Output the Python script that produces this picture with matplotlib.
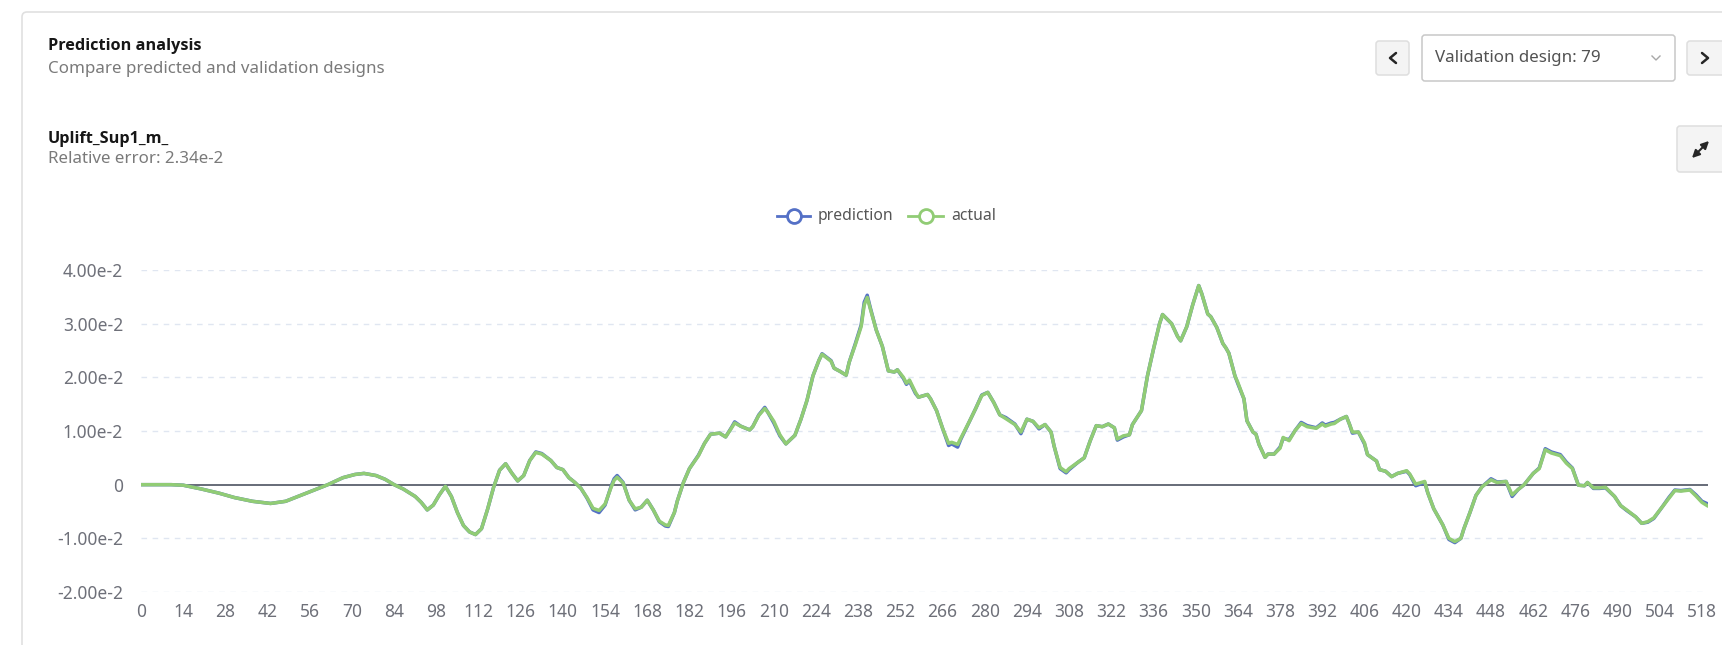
import numpy as np
import matplotlib
matplotlib.use("Agg")
from matplotlib import pyplot as plt
from matplotlib.patches import FancyBboxPatch, FancyArrowPatch
from matplotlib.lines import Line2D

plt.rcParams['font.family'] = ['Noto Sans', 'DejaVu Sans']
title_family = ['Open Sans', 'Roboto', 'DejaVu Sans']

design_idx = [
    0, 5, 10, 14, 20, 26, 31, 37, 43, 48, 53, 58, 62, 67, 71, 74, 78, 81, 84, 87,
    91, 93, 95, 97, 99, 101, 103, 105, 107, 109, 111, 113, 115, 117, 119, 121, 123, 125, 127, 129,
    131, 133, 136, 138, 140, 142, 144, 146, 148, 150, 152, 154, 156, 157, 158, 160, 162, 164, 166, 168,
    170, 172, 174, 175, 177, 178, 180, 182, 185, 187, 189, 192, 194, 196, 197, 199, 202, 203, 205, 207,
    208, 210, 212, 214, 217, 219, 221, 223, 225, 226, 229, 230, 232, 234, 235, 237, 239, 240, 241, 242,
    244, 246, 248, 250, 251, 253, 254, 255, 257, 258, 261, 262, 264, 266, 268, 269, 271, 272, 275, 277,
    279, 281, 283, 285, 287, 290, 292, 294, 296, 298, 300, 302, 303, 305, 307, 308, 311, 313, 315, 317,
    319, 321, 323, 324, 326, 328, 329, 332, 334, 336, 338, 339, 342, 344, 345, 347, 349, 351, 352, 354,
    355, 357, 359, 360, 361, 363, 364, 366, 367, 369, 370, 371, 373, 374, 376, 378, 379, 381, 383, 385,
    387, 390, 392, 393, 395, 396, 398, 400, 401, 402, 404, 406, 407, 410, 411, 413, 415, 417, 420, 421,
    423, 426, 427, 429, 432, 434, 436, 438, 439, 441, 443, 445, 448, 450, 453, 455, 457, 459, 462, 464,
    466, 468, 471, 473, 475, 477, 479, 480, 482, 484, 486, 489, 491, 493, 496, 498, 500, 502, 505, 507,
    509, 511, 514, 516, 518, 520,
]

# values in units of 1e-2
actual_e2 = [
    0.00, 0.00, 0.00, -0.01, -0.08, -0.16, -0.24, -0.31, -0.35, -0.31, -0.20, -0.09, 0.00, 0.13, 0.19, 0.21, 0.17, 0.10, 0.00, -0.08,
    -0.22, -0.33, -0.47, -0.38, -0.19, -0.03, -0.22, -0.52, -0.76, -0.88, -0.93, -0.82, -0.46, -0.05, 0.27, 0.39, 0.22, 0.07, 0.17, 0.45,
    0.60, 0.57, 0.45, 0.32, 0.28, 0.13, 0.04, -0.07, -0.24, -0.44, -0.48, -0.36, -0.05, 0.08, 0.14, 0.03, -0.29, -0.45, -0.42, -0.29,
    -0.47, -0.68, -0.75, -0.76, -0.52, -0.30, 0.04, 0.30, 0.54, 0.77, 0.94, 0.96, 0.89, 1.06, 1.15, 1.09, 1.02, 1.08, 1.29, 1.42,
    1.35, 1.18, 0.93, 0.76, 0.92, 1.22, 1.57, 2.03, 2.32, 2.43, 2.30, 2.17, 2.11, 2.04, 2.28, 2.60, 2.95, 3.35, 3.49, 3.28,
    2.88, 2.58, 2.12, 2.10, 2.14, 2.00, 1.89, 1.95, 1.72, 1.63, 1.68, 1.60, 1.38, 1.05, 0.77, 0.79, 0.75, 0.86, 1.19, 1.42,
    1.66, 1.72, 1.53, 1.30, 1.23, 1.12, 0.98, 1.22, 1.18, 1.06, 1.12, 0.98, 0.72, 0.32, 0.24, 0.30, 0.42, 0.50, 0.82, 1.10,
    1.08, 1.13, 1.06, 0.85, 0.91, 0.93, 1.12, 1.38, 2.03, 2.53, 3.00, 3.17, 3.00, 2.76, 2.68, 2.94, 3.35, 3.71, 3.56, 3.18,
    3.13, 2.93, 2.63, 2.55, 2.45, 2.03, 1.90, 1.60, 1.19, 0.98, 0.94, 0.75, 0.51, 0.57, 0.57, 0.68, 0.88, 0.82, 1.01, 1.14,
    1.08, 1.05, 1.13, 1.09, 1.13, 1.14, 1.22, 1.27, 1.13, 0.98, 0.98, 0.78, 0.56, 0.44, 0.28, 0.25, 0.15, 0.21, 0.26, 0.20,
    0.01, 0.06, -0.15, -0.45, -0.75, -1.00, -1.06, -1.00, -0.82, -0.52, -0.20, -0.04, 0.09, 0.04, 0.06, -0.19, -0.09, 0.00, 0.21, 0.30,
    0.65, 0.59, 0.54, 0.40, 0.30, -0.01, -0.02, 0.04, -0.06, -0.06, -0.05, -0.22, -0.39, -0.47, -0.60, -0.72, -0.69, -0.62, -0.40, -0.25,
    -0.11, -0.12, -0.10, -0.21, -0.33, -0.40,
]

prediction_e2 = [
    0.00, 0.00, 0.00, -0.01, -0.08, -0.16, -0.24, -0.31, -0.35, -0.31, -0.20, -0.09, 0.00, 0.13, 0.19, 0.21, 0.17, 0.10, 0.00, -0.08,
    -0.22, -0.33, -0.47, -0.38, -0.19, -0.03, -0.22, -0.52, -0.76, -0.88, -0.93, -0.82, -0.46, -0.05, 0.27, 0.39, 0.22, 0.07, 0.17, 0.45,
    0.61, 0.58, 0.45, 0.32, 0.28, 0.13, 0.04, -0.07, -0.25, -0.47, -0.52, -0.38, -0.03, 0.11, 0.17, 0.04, -0.29, -0.47, -0.42, -0.29,
    -0.47, -0.69, -0.77, -0.78, -0.52, -0.30, 0.04, 0.30, 0.55, 0.77, 0.94, 0.96, 0.89, 1.07, 1.17, 1.09, 1.02, 1.08, 1.30, 1.44,
    1.35, 1.15, 0.91, 0.76, 0.92, 1.22, 1.57, 2.03, 2.32, 2.44, 2.31, 2.17, 2.11, 2.04, 2.28, 2.62, 2.98, 3.40, 3.53, 3.30,
    2.88, 2.58, 2.12, 2.10, 2.14, 1.98, 1.87, 1.93, 1.70, 1.63, 1.68, 1.60, 1.38, 1.05, 0.73, 0.76, 0.70, 0.84, 1.19, 1.42,
    1.67, 1.72, 1.53, 1.30, 1.25, 1.13, 0.95, 1.22, 1.18, 1.04, 1.12, 0.98, 0.72, 0.30, 0.22, 0.28, 0.42, 0.50, 0.82, 1.10,
    1.08, 1.13, 1.06, 0.83, 0.89, 0.93, 1.12, 1.38, 2.03, 2.53, 3.00, 3.17, 3.00, 2.76, 2.68, 2.94, 3.35, 3.71, 3.56, 3.18,
    3.13, 2.93, 2.63, 2.55, 2.45, 2.03, 1.88, 1.60, 1.19, 0.98, 0.94, 0.75, 0.51, 0.57, 0.57, 0.70, 0.86, 0.84, 1.01, 1.16,
    1.10, 1.06, 1.15, 1.11, 1.15, 1.16, 1.22, 1.27, 1.13, 0.96, 0.98, 0.76, 0.56, 0.44, 0.28, 0.25, 0.15, 0.21, 0.25, 0.19,
    -0.02, 0.04, -0.15, -0.45, -0.75, -1.02, -1.08, -1.00, -0.82, -0.52, -0.20, -0.04, 0.11, 0.05, 0.06, -0.22, -0.09, 0.00, 0.21, 0.31,
    0.67, 0.61, 0.56, 0.42, 0.31, -0.01, -0.02, 0.04, -0.07, -0.07, -0.06, -0.22, -0.39, -0.48, -0.60, -0.72, -0.70, -0.63, -0.40, -0.24,
    -0.10, -0.11, -0.09, -0.19, -0.31, -0.36,
]

x_tick_values = list(range(0, 519, 14))
y_tick_values = [-0.02, -0.01, 0.0, 0.01, 0.02, 0.03, 0.04]
y_tick_labels = ['-2.00e-2', '-1.00e-2', '0', '1.00e-2', '2.00e-2', '3.00e-2', '4.00e-2']

series_names = ['prediction', 'actual']
series_colors = ['#5470c6', '#91cc75']

actual = np.array(actual_e2) * 1e-2
prediction = np.array(prediction_e2) * 1e-2

W, H = 1722, 645
fig = plt.figure(figsize=(W / 100, H / 100), dpi=100)

# page / card layer in pixel coordinates
ui = fig.add_axes([0, 0, 1, 1], zorder=0)
ui.set_xlim(0, W)
ui.set_ylim(H, 0)
ui.axis('off')

ui.add_patch(FancyBboxPatch((22, 12), 1800, 800, boxstyle='round,pad=0,rounding_size=5',
                            fc='white', ec='#e0e0e0', lw=1.2))

ui.text(48, 46, 'Prediction analysis', fontsize=11.7, fontweight='bold',
        family=title_family, color='#161616', va='center')
ui.text(48, 69, 'Compare predicted and validation designs', fontsize=12.2,
        color='#7a7a7a', va='center')
ui.text(48, 139, 'Uplift_Sup1_m_', fontsize=11.7, fontweight='bold',
        family=title_family, color='#161616', va='center')
ui.text(48, 159, 'Relative error: 2.34e-2', fontsize=12.2, color='#7a7a7a', va='center')

# navigation buttons and dropdown
def button(x0, y0, x1, y1, fc='#f4f4f4', ec='#dedede'):
    ui.add_patch(FancyBboxPatch((x0, y0), x1 - x0, y1 - y0,
                                boxstyle='round,pad=0,rounding_size=3', fc=fc, ec=ec, lw=1.1))

button(1376, 41, 1409, 75)
ui.plot([1396, 1390, 1396], [53, 58, 63], color='#262626', lw=1.8, solid_capstyle='round')
button(1422, 35, 1675, 81, fc='white', ec='#c8c8c8')
ui.text(1435, 58, 'Validation design: 79', fontsize=12.2, color='#525252', va='center')
ui.plot([1652, 1656, 1660], [56, 60, 56], color='#a8a8a8', lw=1.0)
button(1687, 41, 1728, 75)
ui.plot([1702, 1708, 1702], [53, 58, 63], color='#262626', lw=1.8, solid_capstyle='round')
button(1677, 126, 1728, 172)
ui.add_patch(FancyArrowPatch((1690, 160), (1711, 139), arrowstyle='<|-|>',
                             mutation_scale=11, color='#262626', lw=1.5))

# legend
legend_x = [(777, 810, 818), (908, 943, 951)]
for (lx0, lx1, tx), name, col in zip(legend_x, series_names, series_colors):
    ui.add_line(Line2D([lx0, lx1], [216, 216], color=col, lw=2))
    ui.add_line(Line2D([(lx0 + lx1) / 2], [216], marker='o', ms=10, mfc='white',
                       mec=col, mew=2))
    ui.text(tx, 216, name, fontsize=11.3, color='#555555', va='center')

# chart
ax = fig.add_axes([141 / W, 1 - 592 / H, (1708 - 141) / W, (592 - 270) / H], zorder=1)
ax.patch.set_alpha(0)
ax.set_xlim(0, 520)
ax.set_ylim(-0.02, 0.04)

for yv in y_tick_values:
    if yv != 0:
        ax.axhline(yv, color='#e0e6f1', lw=1, ls=(0, (4, 4)), zorder=0)
ax.axhline(0, color='#4d5361', lw=1.2, zorder=1)

ax.plot(design_idx, prediction, color=series_colors[0], lw=2.5,
        solid_joinstyle='round', solid_capstyle='round', zorder=2)
ax.plot(design_idx, actual, color=series_colors[1], lw=2.5,
        solid_joinstyle='round', solid_capstyle='round', zorder=3)

ax.set_xticks(x_tick_values)
ax.set_xticklabels([str(v) for v in x_tick_values])
ax.set_yticks(y_tick_values)
ax.set_yticklabels(y_tick_labels)
ax.tick_params(length=0, labelsize=12.5, colors='#6e7079')
ax.tick_params(axis='y', pad=13)
ax.tick_params(axis='x', pad=8)
for s in ax.spines.values():
    s.set_visible(False)

fig.savefig('out.png', dpi=100)
